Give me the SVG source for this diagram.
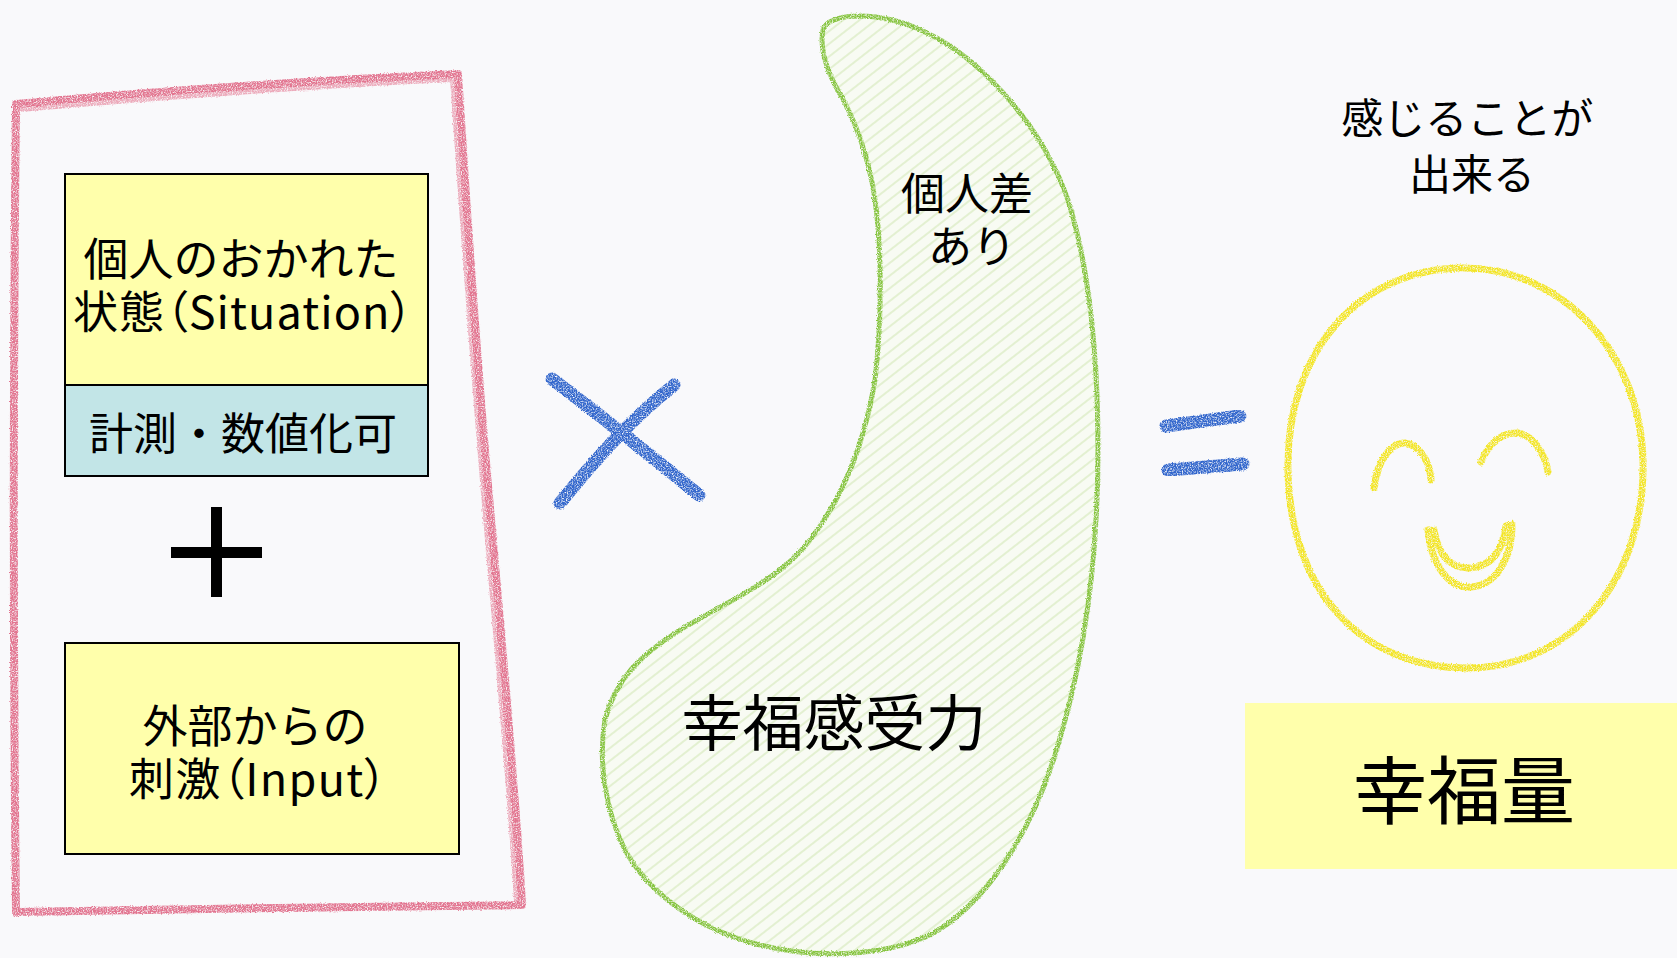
<svg xmlns="http://www.w3.org/2000/svg" width="1677" height="958" viewBox="0 0 1677 958">
  <style>
    .t { font-family: "Noto Sans CJK JP", "Noto Sans", sans-serif; fill: #000; text-anchor: middle; }
    .palt { font-feature-settings: "palt" 1; }
    .box { stroke: #000; stroke-width: 2; }
    .yellow { fill: #ffffab; }
    .cyan { fill: #c2e5e7; }
    .pink { fill: none; stroke: #e27590; stroke-width: 8; stroke-linecap: round; stroke-linejoin: round; }
    .green { fill: none; stroke: #86c440; stroke-width: 5; stroke-linejoin: round; }
    .blue { fill: none; stroke: #3366cc; stroke-width: 13; stroke-linecap: round; }
    .sun { fill: none; stroke: #f3e526; stroke-width: 7; stroke-linecap: round; stroke-linejoin: round; }
  </style>
  <defs>
    <!-- grainy crayon texture: wobble the stroke and punch small holes in it -->
    <filter id="crayon" x="-10%" y="-10%" width="120%" height="120%">
      <feTurbulence type="fractalNoise" baseFrequency="0.8" numOctaves="2" seed="4" result="noise"/>
      <feDisplacementMap in="SourceGraphic" in2="noise" scale="3" xChannelSelector="R" yChannelSelector="G" result="wobble"/>
      <feColorMatrix in="noise" type="matrix" values="0 0 0 0 0  0 0 0 0 0  0 0 0 0 0  2.6 0 0 0 -0.5" result="grain"/>
      <feComposite in="wobble" in2="grain" operator="in"/>
    </filter>
    <!-- pale pencil hatching inside the comma shape -->
    <pattern id="hatch" width="10" height="10" patternUnits="userSpaceOnUse" patternTransform="rotate(-38)">
      <rect width="10" height="10" fill="#f8fbf3"/>
      <line x1="0" y1="5" x2="10" y2="5" stroke="#e1efcd" stroke-width="1.8"/>
    </pattern>
  </defs>

  <!-- paper -->
  <rect width="1677" height="958" fill="#f9f9fb"/>

  <!-- pink crayon frame around the two inputs -->
  <g id="frame" filter="url(#crayon)">
    <path class="pink" d="M 16,104 C 150,92 320,80 458,74 C 466,200 478,380 492,530 C 505,680 516,800 522,905 C 360,906 180,910 16,912 C 13,640 13,380 16,104 Z"/>
    <path class="pink" stroke-width="4" opacity="0.6" d="M 20,108 C 160,96 320,84 454,78 C 463,210 476,390 489,540 C 502,690 512,800 518,901"/>
  </g>

  <g id="situation-node">
    <rect class="box yellow" x="65" y="174" width="363" height="211"/>
    <text class="t" font-size="45">
      <tspan x="246" y="276">個人のおかれた</tspan>
      <tspan class="palt" x="243" y="329" textLength="340">状態（Situation）</tspan>
    </text>
  </g>

  <g id="measurable-node">
    <rect class="box cyan" x="65" y="385" width="363" height="91"/>
    <text class="t" x="243" y="450" font-size="44">計測・数値化可</text>
  </g>

  <g id="input-node">
    <rect class="box yellow" x="65" y="643" width="394" height="211"/>
    <text class="t" font-size="45">
      <tspan x="260" y="743">外部からの</tspan>
      <tspan class="palt" x="258" y="796" textLength="258">刺激（Input）</tspan>
    </text>
  </g>

  <!-- happiness receptivity: hatched green comma shape -->
  <g id="receptivity-node">
    <path fill="url(#hatch)" d="M 823,30 C 828,12 880,10 925,32 C 975,55 1040,120 1068,200 C 1090,270 1098,360 1098,450 C 1098,560 1085,660 1055,755 C 1030,835 985,905 930,935 C 880,958 810,958 760,945 C 700,930 650,895 625,850 C 605,810 598,760 605,720 C 615,680 640,655 680,630 C 730,600 780,580 810,540 C 845,495 865,440 875,380 C 882,320 882,250 875,200 C 868,150 850,110 835,85 C 825,65 820,45 823,30 Z"/>
    <path class="green" filter="url(#crayon)" d="M 823,30 C 828,12 880,10 925,32 C 975,55 1040,120 1068,200 C 1090,270 1098,360 1098,450 C 1098,560 1085,660 1055,755 C 1030,835 985,905 930,935 C 880,958 810,958 760,945 C 700,930 650,895 625,850 C 605,810 598,760 605,720 C 615,680 640,655 680,630 C 730,600 780,580 810,540 C 845,495 865,440 875,380 C 882,320 882,250 875,200 C 868,150 850,110 835,85 C 825,65 820,45 823,30 Z"/>
    <text class="t" font-size="44">
      <tspan x="972" y="210">個人差</tspan>
      <tspan x="972" y="263">あり</tspan>
    </text>
    <text class="t" x="834" y="746" font-size="61">幸福感受力</text>
  </g>

  <!-- operators between the terms -->
  <g id="connectors">
    <g id="plus">
      <rect x="211" y="507" width="11" height="90" fill="#000"/>
      <rect x="171" y="547" width="91" height="11" fill="#000"/>
    </g>
    <g id="times" filter="url(#crayon)">
      <path class="blue" d="M 552,379 C 600,415 650,455 699,495"/>
      <path class="blue" d="M 674,385 C 630,420 595,460 560,503"/>
    </g>
    <g id="equals" filter="url(#crayon)">
      <path class="blue" stroke-width="11" d="M 1166,426 L 1240,416"/>
      <path class="blue" stroke-width="11" d="M 1168,470 L 1243,464"/>
    </g>
  </g>

  <!-- smiling face -->
  <g id="face-node">
    <text class="t" font-size="42">
      <tspan x="1472" y="134">感じることが</tspan>
      <tspan x="1472" y="190">出来る</tspan>
    </text>
    <g filter="url(#crayon)">
      <path class="sun" d="M 1460,268 C 1560,266 1640,350 1643,460 C 1646,580 1570,668 1468,668 C 1360,668 1290,590 1288,470 C 1286,350 1360,270 1460,268 Z"/>
      <path class="sun" stroke-width="6" d="M 1374,488 C 1378,455 1395,442 1405,443 C 1420,445 1430,462 1431,480"/>
      <path class="sun" stroke-width="6" d="M 1481,462 C 1490,440 1505,432 1518,433 C 1532,435 1545,452 1548,472"/>
      <path class="sun" stroke-width="4" fill="#f3e526" d="M 1428,530 C 1432,568 1450,588 1470,587 C 1495,586 1512,560 1512,524 L 1506,526 C 1503,552 1490,567 1470,568 C 1452,569 1438,556 1434,530 Z"/>
    </g>
  </g>

  <g id="happiness-node">
    <rect class="yellow" x="1245" y="703" width="432" height="166"/>
    <text class="t" x="1464" y="818" font-size="74">幸福量</text>
  </g>
</svg>
